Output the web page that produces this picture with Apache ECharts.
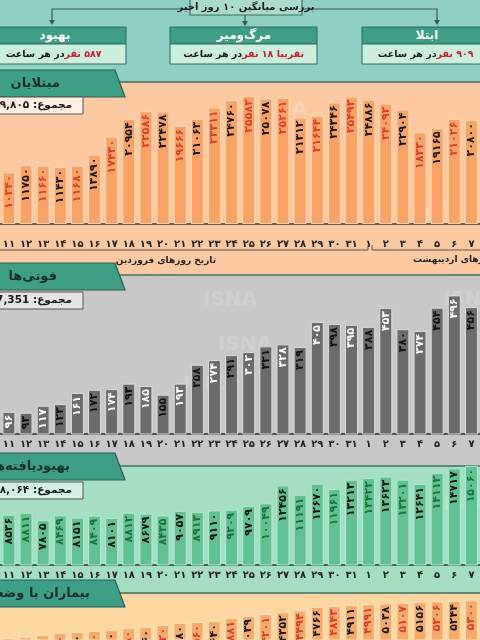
<!DOCTYPE html>
<html><head><meta charset="utf-8">
<script src="https://cdn.jsdelivr.net/npm/echarts@6/dist/echarts.min.js"></script>
<style>html,body{margin:0;padding:0;background:#8fcfc4}#c{width:480px;height:640px;direction:rtl}</style>
</head><body><div id="c"></div>
<script>
// category ticks: Farvardin 11..31, Ordibehesht 1..7
const days = [11,12,13,14,15,16,17,18,19,20,21,22,23,24,25,26,27,28,29,30,31,1,2,3,4,5,6,7];
// daily infected (مبتلایان)
const infected = [10340,11750,11660,11430,11680,13890,17430,20954,22586,22478,19666,21063,23311,24760,25582,25078,25261,21312,21644,24346,25493,24886,24092,22904,18330,19165,21026,20800];
// daily deaths (فوتی‌ها)
const deaths = [96,93,117,123,161,172,174,193,185,155,193,258,274,291,302,321,328,319,405,398,395,388,453,380,374,454,496,456];
// daily recovered (بهبودیافته‌ها)
const recovered = [8536,8811,7805,8469,8151,8409,8101,8812,8679,8435,9057,8913,9110,9209,9709,10049,12456,11191,12670,11961,13213,13422,13623,13201,12641,14112,14717,15060];
// critical patients (بیماران با وضعیت حاد)
const critical = [2280,2360,2520,2680,2760,2840,2920,3080,3160,3320,3480,3560,3640,3881,4039,4201,4352,4494,4766,4843,4911,4991,5038,5107,5156,5206,5244,5300];

const FONT = 'DejaVu Sans';
const fa = s => String(s).replace(/\d/g, d => '۰۱۲۳۴۵۶۷۸۹'[d]);

const chart = echarts.init(document.getElementById('c'), null, {renderer:'canvas'});

const GL = -4.3, GR = -7.1;
const secs = [
  {data: infected, top:70, bottom:406, min:-2000, max:30800, bar:'#f8a265', border:'#fed7b4', cols:['#d8402a','#151515'], axis:'#333', labels:true},
  {data: deaths, top:280, bottom:206, min:20, max:549, bar:'#6b6b6b', border:'#dcdcdc', cols:['#ffffff','#111111'], axis:'#2a2a2a', labels:true},
  {data: recovered, top:455, bottom:75, min:1833, max:16500, bar:'#62c193', border:'#b2ead0', cols:['#111111','#1c6e3a'], axis:'#1f3b33', labels:true},
  {data: critical, top:560, bottom:0, min:2117, max:8532, bar:'#f6ab6b', border:'#fde0b8', cols:['#151515','#d8402a'], axis:'#333', labels:false}
];

const grid = [], xAxis = [], yAxis = [], series = [];
secs.forEach((s, i) => {
  grid.push({left:GL, right:GR, top:s.top, bottom:s.bottom, containLabel:false});
  xAxis.push({type:'category', gridIndex:i, data:days.map(String),
    axisLine:{show:s.labels, lineStyle:{color:s.axis, width:1.6}},
    axisTick:{show:false},
    axisLabel:{show:s.labels, interval:0, margin:5, fontSize:10, fontWeight:'bold', color:'#222', fontFamily:FONT, formatter:v=>fa(v)}});
  yAxis.push({type:'value', gridIndex:i, min:s.min, max:s.max, show:false, splitLine:{show:false}});
  series.push({type:'bar', xAxisIndex:i, yAxisIndex:i, data:s.data, barWidth:13,
    itemStyle:{color:s.bar, borderColor:s.border, borderWidth:1},
    label:{show:true, position:'insideTop', rotate:90, align:'right', verticalAlign:'middle', distance:3,
      fontFamily:FONT, fontSize:11, fontWeight:'bold',
      formatter:p=>'{'+(p.dataIndex%2?'b':'a')+'|'+fa(p.value)+'}',
      rich:{a:{color:s.cols[0], fontFamily:FONT, fontSize:11, fontWeight:'bold'}, b:{color:s.cols[1], fontFamily:FONT, fontSize:11, fontWeight:'bold'}}}
  });
});

const G = [];
// backgrounds
G.push({type:'rect', z:-20, shape:{x:0,y:0,width:480,height:82}, style:{fill:'#8fcfc4'}});
G.push({type:'rect', z:-20, shape:{x:0,y:82,width:480,height:193}, style:{fill:'#fdc9a0'}});
G.push({type:'rect', z:-20, shape:{x:0,y:275,width:480,height:191}, style:{fill:'#c8c8c8'}});
G.push({type:'rect', z:-20, shape:{x:0,y:466,width:480,height:127}, style:{fill:'#a4dfc4'}});
G.push({type:'rect', z:-20, shape:{x:0,y:593,width:480,height:47}, style:{fill:'#fcd7a2'}});
[82,275,466,593].forEach(y => G.push({type:'line', z:-15, shape:{x1:0,y1:y,x2:480,y2:y}, style:{stroke:'#3b6e62', lineWidth:1.5}}));

// watermarks
[[230,300],[210,385],[470,300],[470,505],[280,110],[430,215],[245,345]].forEach(p => G.push({type:'text', z:-12, x:p[0], y:p[1],
  style:{text:'ISNA', fill:'rgba(255,255,255,0.16)', font:'bold 20px '+FONT, align:'center', verticalAlign:'middle'}}));

// header: title box and connectors
const dark = '#3a5a53';
G.push({type:'polyline', z:5, shape:{points:[[52,21],[52,9],[190,9]]}, style:{stroke:dark, lineWidth:1.2, fill:null}});
G.push({type:'polyline', z:5, shape:{points:[[302,9],[437,9],[437,21]]}, style:{stroke:dark, lineWidth:1.2, fill:null}});
G.push({type:'line', z:5, shape:{x1:245,y1:15,x2:245,y2:22}, style:{stroke:dark, lineWidth:1.2}});
[[52,25],[437,25],[245,26]].forEach(p => G.push({type:'polygon', z:5, shape:{points:[[p[0]-3,p[1]-5],[p[0]+3,p[1]-5],[p[0],p[1]]]}, style:{fill:dark}}));
G.push({type:'rect', z:6, shape:{x:190,y:-3,width:112,height:18}, style:{fill:'#a9dccf', stroke:'#3b6e62', lineWidth:1.2}});
G.push({type:'text', z:7, x:246, y:7, style:{text:'بررسی میانگین ۱۰ روز اخیر', fill:'#1a1a1a', font:'bold 10px '+FONT, align:'center', verticalAlign:'middle'}});

function infoBox(x, w, title, cx, red, cx2) {
  G.push({type:'rect', z:6, shape:{x:x,y:27,width:w,height:17}, style:{fill:'#3f9e86', stroke:'#2e6a5c', lineWidth:1}});
  G.push({type:'rect', z:6, shape:{x:x,y:44,width:w,height:20}, style:{fill:'#cbeedd', stroke:'#2e6a5c', lineWidth:1}});
  G.push({type:'text', z:7, x:cx, y:36, style:{text:title, fill:'#ffffff', font:'bold 12px '+FONT, align:'center', verticalAlign:'middle'}});
  G.push({type:'text', z:7, x:cx2, y:54.5, style:{text:'{b|در هر ساعت }{r|'+red+'}', align:'center', verticalAlign:'middle',
    rich:{b:{fill:'#151515', font:'bold 9.5px '+FONT}, r:{fill:'#c8202a', font:'bold 9.5px '+FONT}}}});
}
infoBox(-5, 131, 'بهبود', 55, '۵۸۷ نفر', 52);
infoBox(170, 147, 'مرگ‌ومیر', 244, 'تقریبا ۱۸ نفر', 242);
infoBox(362, 125, 'ابتلا', 427, '۹۰۹ نفر', 424);

// section tabs
function tab(y, text, xr) {
  G.push({type:'polygon', z:8, shape:{points:[[-5,y],[115,y],[125,y+27],[-5,y+27]]}, style:{fill:'#3f9e86', stroke:'#2a5c50', lineWidth:1.2}});
  G.push({type:'text', z:9, x:xr, y:y+13.5, style:{text:text, fill:'#16302a', font:'bold 13px '+FONT, align:'right', verticalAlign:'middle'}});
}
tab(70, 'مبتلایان', 60);
tab(263, 'فوتی‌ها', 57);
tab(453, 'بهبودیافته‌ها', 70);
tab(580, 'بیماران با وضعیت حاد', 90);

function sumBox(y, fill, text) {
  G.push({type:'rect', z:8, shape:{x:-5,y:y,width:88,height:17}, style:{fill:fill, stroke:'#555', lineWidth:1}});
  G.push({type:'text', z:9, x:72, y:y+8.5, style:{text:text, fill:'#1a1a1a', font:'bold 10.5px '+FONT, align:'right', verticalAlign:'middle'}});
}
sumBox(97, '#fff0e2', 'مجموع: ۵۷۹,۸۰۵');
sumBox(292, '#e4e4e4', 'مجموع: 7,351');
sumBox(482, '#d3f1e3', 'مجموع: ۳۳۸,۰۶۴');

// month bracket under section 1
G.push({type:'polyline', z:5, shape:{points:[[0,250],[368,250],[368,245]]}, style:{stroke:'#555', lineWidth:1, fill:null}});
G.push({type:'polyline', z:5, shape:{points:[[372,245],[372,250],[480,250]]}, style:{stroke:'#555', lineWidth:1, fill:null}});
G.push({type:'text', z:5, x:166, y:261, style:{text:'تاریخ روزهای فروردین', fill:'#222', font:'bold 9px '+FONT, align:'center', verticalAlign:'middle'}});
G.push({type:'text', z:5, x:413, y:260, style:{text:'تاریخ روزهای اردیبهشت', fill:'#222', font:'bold 9px '+FONT, align:'left', verticalAlign:'middle'}});

chart.setOption({animation:false, backgroundColor:'#8fcfc4', grid, xAxis, yAxis, series, graphic:{elements:G}});
</script></body></html>
